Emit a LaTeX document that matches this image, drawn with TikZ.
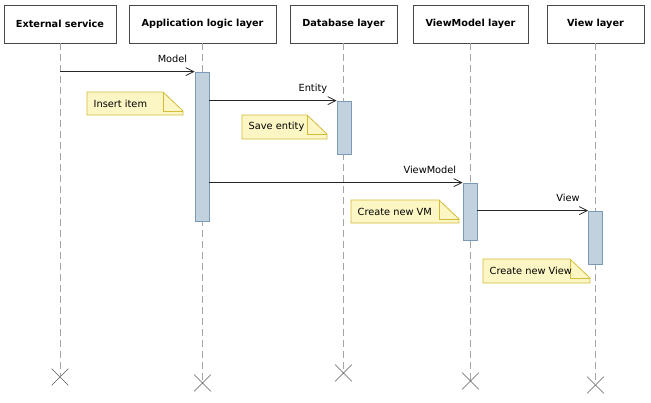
\documentclass[tikz,border=0pt]{standalone}
\usepackage{fontspec}
\setmainfont{DejaVu Sans}
\usepackage{xcolor}
\usetikzlibrary{positioning, arrows.meta, shapes.misc}

\definecolor{lifegray}{RGB}{165,165,165}
\definecolor{actfill}{RGB}{193,209,222}
\definecolor{actdraw}{RGB}{122,154,184}
\definecolor{notefill}{RGB}{252,246,196}
\definecolor{notedraw}{RGB}{212,188,58}

\begin{document}
\begin{tikzpicture}[x=1pt, y=-1pt,
    head/.style={draw=black!72, line width=0.95pt, fill=white, minimum height=38pt,
        inner xsep=0pt, font=\bfseries\fontsize{9.7}{11}\selectfont},
    life/.style={draw=lifegray, line width=0.8pt, dash pattern=on 7pt off 4pt},
    endmark/.style={cross out, draw=black!65, line width=0.6pt, minimum size=16pt, inner sep=0pt},
    act/.style={draw=actdraw, fill=actfill, line width=0.8pt, minimum width=14pt, inner sep=0pt},
    msg/.style={draw=black!85, line width=0.8pt, -{Straight Barb[length=8pt, width=8pt]}},
    lbl/.style={font=\fontsize{9.8}{11}\selectfont, inner sep=0pt, anchor=base east},
    notebody/.style={draw=notedraw, fill=notefill, line width=0.8pt, line join=miter},
    notetext/.style={font=\fontsize{9.8}{11}\selectfont, inner xsep=6.5pt, inner ysep=0pt, anchor=west}]

\useasboundingbox (0,0) rectangle (651,402);

% Headers and lifelines
\foreach \n/\x/\w/\ye/\txt in {ext/60/112/377/External service,
    app/202.5/147/383/Application logic layer,
    db/343.5/107/373/Database layer,
    vm/470.5/115/381/ViewModel layer,
    view/595.5/97/385/View layer} {
    \node[head, minimum width=\w pt] (h-\n) at (\x,24) {\txt};
    \node[endmark] (x-\n) at (h-\n.south |- 0,\ye) {};
    \draw[life] (h-\n.south) -- (x-\n.center);
}

% Activations
\foreach \n/\x/\y/\h in {app/202/146.5/149, db/344/127.5/53, vm/470/211.5/57, view/595.5/237.5/53} {
    \node[act, minimum height=\h pt] (a-\n) at (\x,\y) {};
}

% Messages
\draw[msg] (h-ext.south |- a-app.north) -- (a-app.north west)
    node[lbl, xshift=-7pt, yshift=9pt] {Model};
\draw[msg] (a-app.east |- a-db.north) -- (a-db.north west)
    node[lbl, xshift=-9pt, yshift=9pt] {Entity};
\draw[msg] (a-app.east |- a-vm.north) -- (a-vm.north west)
    node[lbl, xshift=-6pt, yshift=9pt] {ViewModel};
\draw[msg] (a-vm.east |- a-view.north) -- (a-view.north west)
    node[lbl, xshift=-8pt, yshift=9pt] {View};

% Notes
\foreach \n/\xa/\ya/\xb/\yb/\txt in {insert/87/92/183/115/Insert item,
    save/242/115/327/139/Save entity,
    newvm/351/200/459/223/Create new VM,
    newview/483/259/590/283/Create new View} {
    \filldraw[notebody] (\xa,\ya) -- (\xb-20,\ya) -- (\xb,\ya+19) -- (\xb,\yb) -- (\xa,\yb) -- cycle;
    \draw[notebody, fill=none] (\xb-20,\ya) |- (\xb,\ya+19);
    \node[notetext] (n-\n) at (\xa,{(\ya+\yb)/2}) {\txt};
}

\end{tikzpicture}
\end{document}
